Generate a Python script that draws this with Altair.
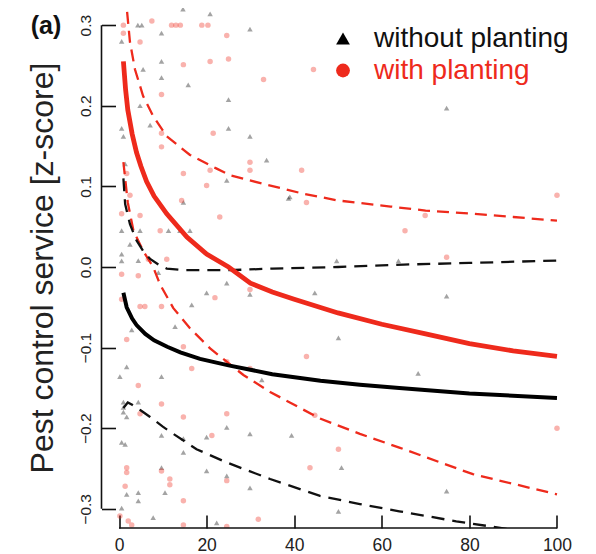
import altair as alt
import pandas as pd

FONT = "Liberation Sans"
RED = "#ee2a1c"
GROUPS = ["without planting", "with planting"]
PANEL = "(a)"
Y_TITLE = "Pest control service [z-score]"
X_TICKS = [0, 20, 40, 60, 80, 100]
Y_TICKS = [-0.3, -0.2, -0.1, 0.0, 0.1, 0.2, 0.3]
X_DOMAIN = [-4, 104]
Y_DOMAIN = [-0.32375, 0.32125]

# scatter: without planting (triangles)
wo_x = [4.3, 5.2, 9.7, 14.6, 20.8, 0.6, 9.7, 5.5, 9.7, 15.8, 4.8, 25.0, 7.1, 0.6, 1.0, 25.0, 1.4, 29.9, 29.9, 33.7,
        24.6, 38.7, 49.7, 74.8, 63.8, 74.8, 68.3, 74.8, 44.7, 50.1, 39.4, 50.8, 50.1, 24.6, 29.9, 32.6, 24.6, 29.9, 24.6, 29.9,
        14.7, 0.6, 4.8, 11.3, 13.9, 16.2, 2.5, 0.6, 0.6, 4.4, 9.0, 20.0, 16.6, 12.8, 2.9, 1.75, 0.2, 9.7, 1.0, 1.0,
        1.0, 4.4, 1.75, 9.7, 0.6, 1.4, 14.7, 20.0, 9.7, 20.0, 1.75, 4.4, 10.5, 4.4, 0.6, 7.8, 22.3, 14.7, 39.0]
wo_y = [0.30, 0.30, 0.29, 0.32, 0.314, 0.28, 0.255, 0.245, 0.235, 0.226, 0.20, 0.2075, 0.176, 0.172, 0.162, 0.172, 0.128, 0.295, 0.162, 0.1325,
        0.1075, 0.085, 0.0075, 0.197, 0.0075, -0.036, -0.132, -0.278, -0.032, -0.088, -0.209, -0.249, -0.303, -0.02, -0.034, -0.14, -0.199, -0.207, -0.259, -0.274,
        0.08, 0.045, 0.045, 0.045, 0.045, 0.045, 0.028, 0.016, 0.0075, 0.008, -0.007, -0.032, -0.047, -0.074, -0.078, -0.124, -0.136, -0.136, -0.1675, -0.174,
        -0.18, -0.1675, -0.186, -0.209, -0.2175, -0.22, -0.23, -0.211, -0.249, -0.253, -0.282, -0.28, -0.28, -0.29, -0.299, -0.311, -0.3175, -0.213, 0.087]

# scatter: with planting (circles)
wi_x = [1.0, 7.5, 12.0, 13.0, 14.0, 18.9, 20.3, 1.0, 4.8, 14.7, 20.8, 25.0, 9.7, 9.7, 9.7, 21.5, 14.7, 20.8, 1.75, 24.6,
        33.0, 44.4, 29.9, 29.9, 41.7, 42.8, 23.0, 65.3, 69.9, 100.0, 74.8, 100.0, 42.8, 44.7, 50.1, 43.6, 29.9, 24.6, 29.9, 24.6,
        24.6, 31.8, 24.6, 20.0, 2.5, 0.6, 4.8, 9.4, 6.7, 10.9, 0.6, 4.4, 21.9, 0.6, 4.8, 5.9, 9.7, 1.75, 14.7, 16.6,
        4.4, 9.7, 4.8, 14.7, 1.75, 1.75, 9.7, 11.6, 11.6, 1.4, 14.7, 0.2, 2.1, 2.9, 14.7, 14.3, 21.2]
wi_y = [0.30, 0.305, 0.30, 0.30, 0.30, 0.30, 0.30, 0.29, 0.279, 0.251, 0.255, 0.258, 0.214, 0.149, 0.166, 0.166, 0.116, 0.12, 0.116, 0.287,
        0.2325, 0.245, 0.13, 0.12, 0.12, 0.08, 0.062, 0.045, 0.064, 0.089, 0.012, -0.2, -0.111, -0.184, -0.226, -0.249, -0.028, -0.1175, -0.126, -0.182,
        -0.265, -0.313, -0.322, 0.101, 0.089, 0.066, 0.064, 0.045, 0.0096, 0.0096, -0.009, -0.011, -0.038, -0.04, -0.049, -0.049, -0.049, -0.09, -0.099, -0.126,
        -0.147, -0.17, -0.182, -0.186, -0.249, -0.255, -0.253, -0.263, -0.27, -0.272, -0.29, -0.309, -0.315, -0.32, -0.32, 0.0825, -0.209]

# fitted curves
red_fit_x = [1, 1.5, 2, 3, 4, 5, 6.3, 8, 10.9, 15.5, 20, 25, 30, 35, 40, 50, 60, 70, 80, 90, 100]
red_fit_y = [0.255, 0.22, 0.195, 0.165, 0.142, 0.125, 0.106, 0.088, 0.066, 0.037, 0.016, 0.0, -0.02, -0.031, -0.040, -0.057, -0.071, -0.083, -0.095, -0.104, -0.111]
blk_fit_x = [1, 1.75, 3, 4, 6, 8, 11, 14, 18.5, 25, 35, 46, 55, 64, 80, 100]
blk_fit_y = [-0.032, -0.05, -0.064, -0.072, -0.083, -0.091, -0.099, -0.106, -0.114, -0.122, -0.133, -0.141, -0.146, -0.150, -0.157, -0.1625]
red_hi_x = [1.5, 1.75, 2.5, 3.65, 5.5, 7.8, 10.9, 16.2, 22.3, 25.3, 33, 42, 50, 62, 70, 81, 90, 100]
red_hi_y = [0.34, 0.322, 0.279, 0.245, 0.212, 0.187, 0.162, 0.139, 0.122, 0.114, 0.103, 0.091, 0.0825, 0.075, 0.07, 0.066, 0.062, 0.0575]
red_lo_x = [1, 2, 3.3, 5.5, 7.8, 9.4, 12.4, 16.2, 20.8, 28.4, 34.5, 45.9, 55, 64, 80.8, 100]
red_lo_y = [0.13, 0.08, 0.045, 0.02, 0.0, -0.022, -0.051, -0.076, -0.101, -0.134, -0.155, -0.188, -0.207, -0.224, -0.257, -0.282]
blk_hi_x = [1, 1.4, 2.5, 4, 5.5, 7.1, 9, 10.9, 15, 20, 25, 35, 50, 65, 80, 100]
blk_hi_y = [0.11, 0.078, 0.053, 0.033, 0.02, 0.01, 0.003, -0.002, -0.004, -0.004, -0.004, -0.002, 0.0, 0.003, 0.005, 0.008]
blk_lo_x = [1, 2, 3, 5, 7.1, 10, 12.4, 17.7, 24.6, 34.5, 45.9, 55, 64, 77, 90, 100]
blk_lo_y = [-0.175, -0.168, -0.171, -0.178, -0.186, -0.198, -0.207, -0.226, -0.2425, -0.263, -0.284, -0.294, -0.303, -0.3155, -0.326, -0.334]

pts = pd.concat([
    pd.DataFrame({"x": wo_x, "y": wo_y, "group": GROUPS[0]}),
    pd.DataFrame({"x": wi_x, "y": wi_y, "group": GROUPS[1]}),
])


def curve_df(xs, ys, name):
    return pd.DataFrame({"x": xs, "y": ys, "curve": name})


xs = alt.Scale(domain=X_DOMAIN, nice=False, zero=False)
ys = alt.Scale(domain=Y_DOMAIN, nice=False, zero=False)

X_AXIS = alt.Axis(
    values=X_TICKS, title="", offset=-13, tickSize=13, tickWidth=1.6, tickColor="#111111",
    domain=False, grid=False, labelPadding=8, labelFontSize=17.5, labelFont=FONT,
    labelColor="#222222", format="d")
Y_AXIS = alt.Axis(
    values=Y_TICKS, format=".1f", title=Y_TITLE, offset=-14, tickSize=14, tickWidth=1.6,
    tickColor="#111111", domain=False, grid=False,
    labelAngle=270, labelAlign="center", labelBaseline="alphabetic", labelPadding=11.5,
    labelFontSize=15.5, labelFont=FONT, labelColor="#222222",
    titleAngle=270, titleFontSize=32, titleFontWeight="normal", titleFont=FONT, titleColor="#222222",
    titleX=-63.5, titleY=259.5, titleAlign="center", titleBaseline="alphabetic")

legend = alt.Legend(
    title=None, orient="none", legendX=227.5, legendY=16.5, padding=0,
    symbolSize=190, symbolOpacity=1, symbolStrokeWidth=0,
    labelFontSize=28, labelFont=FONT, labelOffset=17, rowPadding=4, labelLimit=0,
    labelColor=alt.ExprRef(expr="datum.label == 'with planting' ? '%s' : '#111111'" % RED),
)

points = alt.Chart(pts).mark_point(filled=True, size=30, opacity=0.36, clip=True).encode(
    x=alt.X("x:Q", scale=xs, axis=X_AXIS),
    y=alt.Y("y:Q", scale=ys, axis=Y_AXIS),
    color=alt.Color("group:N", scale=alt.Scale(domain=GROUPS, range=["#000000", RED]), legend=legend),
    shape=alt.Shape("group:N", scale=alt.Scale(domain=GROUPS, range=["triangle-up", "circle"]), legend=legend),
)


def line(df, color, width, dash=None):
    kw = dict(color=color, strokeWidth=width, clip=True)
    if dash is not None:
        kw["strokeDash"] = dash
    return alt.Chart(df).mark_line(**kw).encode(
        x=alt.X("x:Q", scale=xs, axis=X_AXIS),
        y=alt.Y("y:Q", scale=ys, axis=Y_AXIS),
        detail="curve:N",
        order="x:Q",
    )


red_dash = line(pd.concat([curve_df(red_hi_x, red_hi_y, "hi"), curve_df(red_lo_x, red_lo_y, "lo")]), RED, 2.3, [12, 7])
blk_dash = line(pd.concat([curve_df(blk_hi_x, blk_hi_y, "hi"), curve_df(blk_lo_x, blk_lo_y, "lo")]), "#111111", 2.3, [13, 8])
red_fit = line(curve_df(red_fit_x, red_fit_y, "fit"), RED, 4.8)
blk_fit = line(curve_df(blk_fit_x, blk_fit_y, "fit"), "#000000", 4)

yaxis_line = alt.Chart(pd.DataFrame({"lo": [min(Y_TICKS)], "hi": [max(Y_TICKS)]})).mark_rule(
    color="#111111", strokeWidth=1.6).encode(
    x=alt.value(0), y=alt.Y("lo:Q", scale=ys, axis=Y_AXIS), y2="hi:Q")
xaxis_line = alt.Chart(pd.DataFrame({"lo": [min(X_TICKS)], "hi": [max(X_TICKS)]})).mark_rule(
    color="#111111", strokeWidth=1.6).encode(
    y=alt.value(520), x=alt.X("lo:Q", scale=xs, axis=X_AXIS), x2="hi:Q")

panel = alt.Chart(pd.DataFrame({"t": [PANEL]})).mark_text(
    fontSize=25, fontWeight="bold", font=FONT, align="center", baseline="middle", color="#111111").encode(
    x=alt.value(-55.5), y=alt.value(18), text="t:N")

chart = alt.layer(points, red_dash, blk_dash, red_fit, blk_fit, yaxis_line, xaxis_line, panel).properties(
    width=473, height=520,
    autosize=alt.AutoSizeParams(type="none"),
    padding={"left": 93.5, "top": 0, "right": 10, "bottom": 26},
    background="white",
).configure_view(strokeWidth=0)

chart.save("out.html", embed_options={"renderer": "svg", "actions": False})
